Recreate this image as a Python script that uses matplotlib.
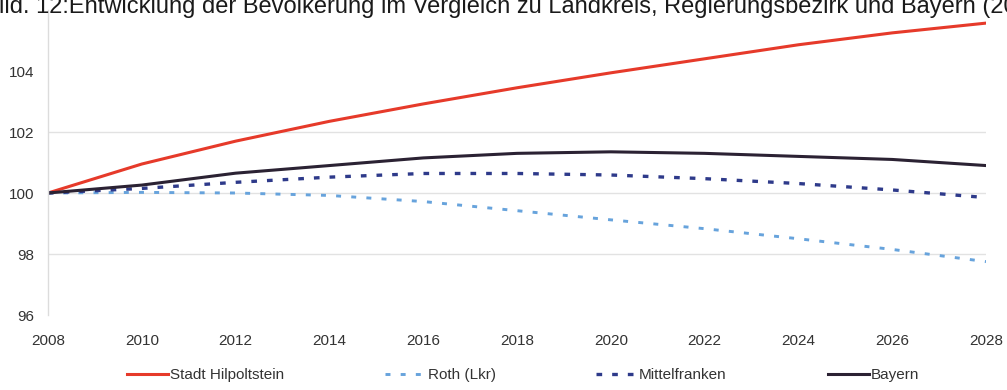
import numpy as np
import matplotlib
matplotlib.use("Agg")
from matplotlib import pyplot as plt

plt.rcParams['font.family'] = ['Liberation Sans', 'DejaVu Sans']

# Bevoelkerungsindex, 2008 = 100
years = [2008, 2010, 2012, 2014, 2016, 2018, 2020, 2022, 2024, 2026, 2028]
hilpoltstein = [100.0, 100.95, 101.7, 102.35, 102.92, 103.45, 103.94, 104.4, 104.86, 105.25, 105.57]
roth = [100.0, 100.02, 100.0, 99.92, 99.72, 99.42, 99.12, 98.83, 98.5, 98.15, 97.75]
mittelfranken = [100.0, 100.15, 100.35, 100.52, 100.64, 100.64, 100.59, 100.47, 100.31, 100.1, 99.85]
bayern = [100.0, 100.26, 100.65, 100.9, 101.15, 101.3, 101.35, 101.3, 101.2, 101.1, 100.9]

series_names = ["Stadt Hilpoltstein", "Roth (Lkr)", "Mittelfranken", "Bayern"]
y_ticks = [96, 98, 100, 102, 104]
grid_levels = [98, 100, 102]

title = ("Abbild. 12:Entwicklung der Bevölkerung im Vergleich zu Landkreis, "
         "Regierungsbezirk und Bayern (2008-2028)")

fig = plt.figure(figsize=(10.07, 3.9), dpi=100)
ax = fig.add_axes([48 / 1007, 75 / 390, 938 / 1007, 305 / 390])

for lvl in grid_levels:
    ax.axhline(lvl, color='#e2e2e2', lw=1.0, zorder=0)

ax.plot(years, hilpoltstein, color='#e63a2a', lw=2.2, label=series_names[0])
ax.plot(years, roth, color='#67a3dc', lw=2.1, linestyle=(0, (1.7, 3.5)),
        label=series_names[1])
ax.plot(years, mittelfranken, color='#2e3a8a', lw=2.4, linestyle=(0, (1.7, 3.0)),
        label=series_names[2])
ax.plot(years, bayern, color='#2b2233', lw=2.2, label=series_names[3])

ax.set_xlim(2008, 2028)
ax.set_ylim(96, 106)
ax.set_xticks(years)
ax.set_yticks(y_ticks)

for side in ['top', 'right', 'bottom']:
    ax.spines[side].set_visible(False)
ax.spines['left'].set_color('#dcdcdc')
ax.spines['left'].set_linewidth(1.0)

ax.tick_params(axis='both', length=0, labelsize=11, labelcolor='#333333')
ax.tick_params(axis='y', pad=10)
ax.tick_params(axis='x', pad=14)

fig.legend(loc='center left', bbox_to_anchor=(127 / 1007, 15 / 390), ncol=4,
           frameon=False, fontsize=11, handlelength=2.7, handletextpad=0.1,
           columnspacing=6.6, borderpad=0, borderaxespad=0, labelcolor='#333333')

# Bildunterschrift steht oben und ist am Rand abgeschnitten
fig.text(-0.043, 1 - 13.5 / 390, title, fontsize=17, color='#1a1a1a',
         ha='left', va='baseline')

fig.savefig("out.png", dpi=100)
